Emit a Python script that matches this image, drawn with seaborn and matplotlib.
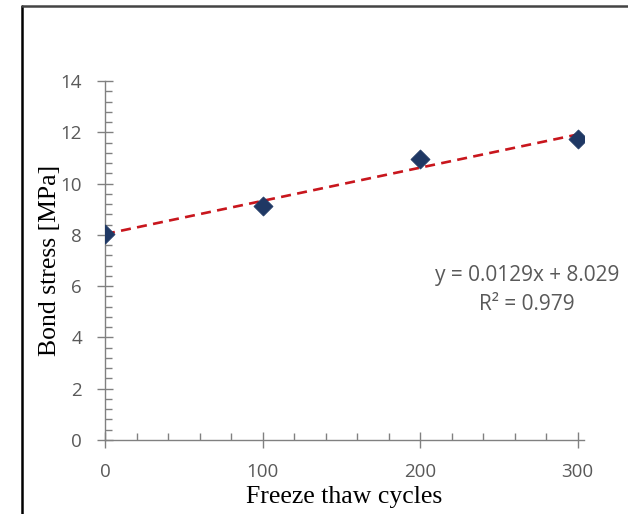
import matplotlib
matplotlib.use("Agg")
import matplotlib.pyplot as plt
from matplotlib.lines import Line2D
from matplotlib.ticker import MultipleLocator
import seaborn as sns
import pandas as pd

cycles = [0, 100, 200, 300]
bond_stress = [8.05, 9.12, 10.97, 11.75]
x_ticks = [0, 100, 200, 300]
y_ticks = [0, 2, 4, 6, 8, 10, 12, 14]
eq_text = "y = 0.0129x + 8.029"
r2_text = "R² = 0.979"

df = pd.DataFrame({"cycles": cycles, "stress": bond_stress})

sns.set_theme(style="white")
plt.rcParams["font.family"] = ["Open Sans", "DejaVu Sans"]

fig = plt.figure(figsize=(6.28, 5.14), dpi=100)
ax = fig.add_axes([105/628, 74/514, (584-105)/628, (440-81)/514])

sns.regplot(data=df, x="cycles", y="stress", ax=ax, scatter=False, ci=None,
            truncate=True,
            line_kws=dict(color="#C8161D", lw=1.9, linestyle=(0, (3.8, 2.4)), zorder=2))
sns.scatterplot(data=df, x="cycles", y="stress", ax=ax, marker="D", s=95,
                color="#1F3864", edgecolor="#1F3864", linewidth=0.5, zorder=3)

ax.set_xlim(0, 304)
ax.set_ylim(0, 14)
ax.set_xticks(x_ticks)
ax.set_yticks(y_ticks)
ax.xaxis.set_minor_locator(MultipleLocator(20))
ax.yaxis.set_minor_locator(MultipleLocator(0.4))

axis_col = "#808080"
for s in ["top", "right"]:
    ax.spines[s].set_visible(False)
for s in ["left", "bottom"]:
    ax.spines[s].set_color(axis_col)
    ax.spines[s].set_linewidth(1.0)

ax.tick_params(which="major", direction="inout", length=11, width=1.0, color=axis_col,
               labelsize=13.5, labelcolor="#595959", left=True, bottom=True)
ax.tick_params(which="minor", direction="in", length=5, width=1.0, color=axis_col,
               left=True, bottom=True)
ax.tick_params(axis="y", which="major", pad=11)
ax.tick_params(axis="x", which="major", pad=11)

ax.set_xlabel("Freeze thaw cycles", family=["Liberation Serif"], fontsize=18.5,
              color="#000000", labelpad=4)
ax.set_ylabel("Bond stress [MPa]", family=["Liberation Serif"], fontsize=18.5,
              color="#000000", labelpad=0)

fig.text(527/628, 1 - 275/514, eq_text, ha="center", va="center", fontsize=15,
         color="#595959")
fig.text(527/628, 1 - 305/514, r2_text, ha="center", va="center", fontsize=15,
         color="#595959")

fig.add_artist(Line2D([22/628, 22/628], [0, 1 - 6/514], color="black", lw=1.8,
                      transform=fig.transFigure))
fig.add_artist(Line2D([22/628, 1], [1 - 6/514, 1 - 6/514], color="#444444", lw=1.8,
                      transform=fig.transFigure))

fig.savefig("out.png", dpi=100)
